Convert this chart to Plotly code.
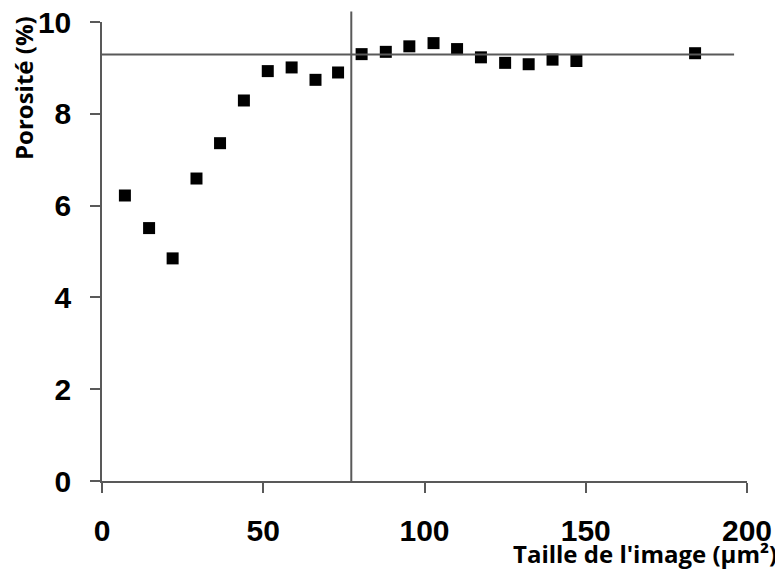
import plotly.graph_objects as go

# Data
taille = [7.1, 14.6, 21.9, 29.3, 36.6, 44.0, 51.4, 58.8, 66.2, 73.2, 80.5,
          88.0, 95.3, 102.8, 110.1, 117.5, 125.0, 132.3, 139.7, 147.1, 183.9]
porosite = [6.22, 5.51, 4.85, 6.59, 7.36, 8.29, 8.93, 9.01, 8.74, 8.90, 9.30,
            9.35, 9.47, 9.54, 9.41, 9.23, 9.11, 9.08, 9.18, 9.15, 9.32]
x_ticks = [0, 50, 100, 150, 200]
y_ticks = [0, 2, 4, 6, 8, 10]
ref_x = 77.3          # vertical reference line
ref_y = 9.29          # horizontal reference line
ref_y_end = 196       # x where horizontal line stops

line_col = "#595959"

fig = go.Figure()
fig.add_trace(go.Scatter(
    x=taille, y=porosite, mode="markers",
    marker=dict(symbol="square", size=12, color="black", line=dict(width=0)),
    showlegend=False, cliponaxis=False,
))

fig.add_shape(type="line", xref="x", yref="y", x0=0, x1=ref_y_end, y0=ref_y, y1=ref_y,
              line=dict(color=line_col, width=2))
fig.add_shape(type="line", xref="x", yref="paper", x0=ref_x, x1=ref_x, y0=0, y1=1.023,
              line=dict(color=line_col, width=2))

tick_font = dict(family="Liberation Sans, Arial", size=30, color="black", weight="bold")

# page body has an 8px margin, so the figure is 8px smaller and shifted
fig.update_layout(
    width=775, height=567,
    margin=dict(l=94, r=36, t=14, b=94),
    paper_bgcolor="white", plot_bgcolor="white",
    font=dict(family="Liberation Sans, Arial", color="black"),
)
fig.update_xaxes(
    range=[0, 200], tickvals=x_ticks, ticktext=[str(v) for v in x_ticks],
    showgrid=False, zeroline=False, showline=True, linecolor=line_col, linewidth=1.5,
    ticks="outside", ticklen=10, tickwidth=1.5, tickcolor=line_col,
    tickfont=tick_font, automargin=False, ticklabeloverflow="allow",
    ticklabelstandoff=12,
)
fig.update_yaxes(
    range=[0, 10], tickvals=y_ticks, ticktext=[str(v) for v in y_ticks],
    showgrid=False, zeroline=False, showline=True, linecolor=line_col, linewidth=1.5,
    ticks="outside", ticklen=10, tickwidth=1.5, tickcolor=line_col,
    tickfont=tick_font, ticklabelstandoff=13, automargin=False,
    ticklabeloverflow="allow",
)

fig.add_annotation(
    text="Taille de l'image (µm²)", xref="paper", yref="paper",
    x=1.0 + 32/645, y=0, xanchor="right", yanchor="middle", yshift=-72,
    showarrow=False, font=dict(family="Open Sans", size=24, color="black", weight="bold"),
)
fig.add_annotation(
    text="Porosité (%)", xref="paper", yref="paper",
    x=0, y=1, xanchor="center", yanchor="middle", xshift=-79, yshift=-66,
    textangle=-90,
    showarrow=False, font=dict(family="Open Sans", size=24, color="black", weight="bold"),
)

fig.write_html("out.html")
